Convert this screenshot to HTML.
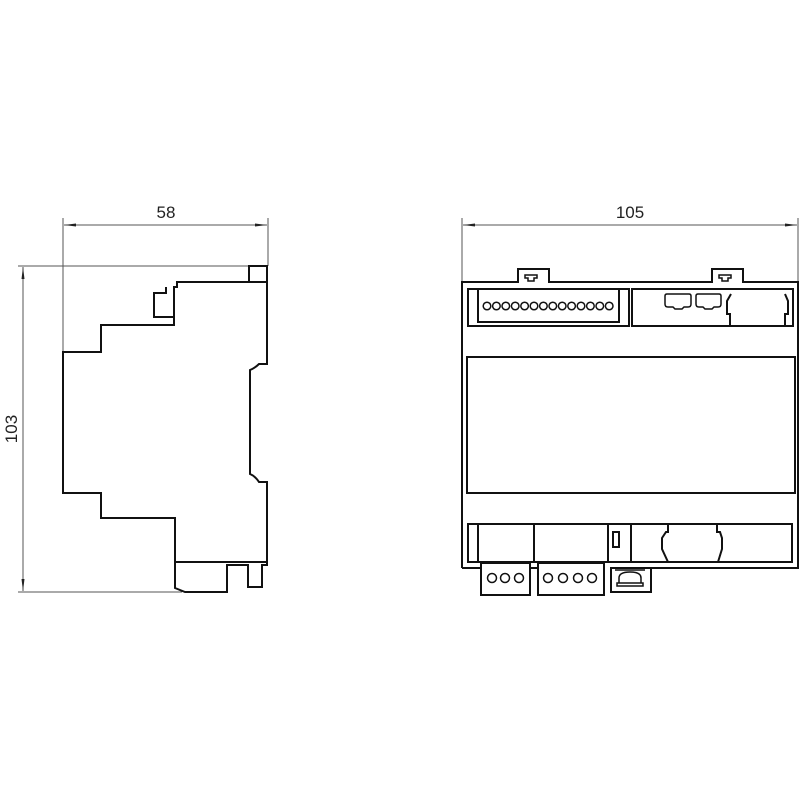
<!DOCTYPE html>
<html><head><meta charset="utf-8"><style>html,body{margin:0;padding:0;background:#fff}svg{display:block}</style></head>
<body>
<svg width="800" height="800" viewBox="0 0 800 800" xmlns="http://www.w3.org/2000/svg">
<defs>
<marker id="a" viewBox="0 0 12 6" refX="12" refY="3" markerWidth="12" markerHeight="6" markerUnits="userSpaceOnUse" orient="auto-start-reverse"><path d="M12,3 L0,1.5 L0,4.5 Z" fill="#222"/></marker>
</defs>
<g stroke="#555" stroke-width="1" fill="none">
<line x1="63" y1="218" x2="63" y2="352"/>
<line x1="268" y1="218" x2="268" y2="266"/>
<line x1="64" y1="225" x2="267" y2="225" marker-start="url(#a)" marker-end="url(#a)"/>
<line x1="18" y1="266" x2="266" y2="266"/>
<line x1="18" y1="592" x2="182" y2="592"/>
<line x1="23" y1="267" x2="23" y2="591" marker-start="url(#a)" marker-end="url(#a)"/>
<line x1="462" y1="218" x2="462" y2="282"/>
<line x1="798" y1="218" x2="798" y2="282"/>
<line x1="463" y1="225" x2="797" y2="225" marker-start="url(#a)" marker-end="url(#a)"/>
</g>
<g font-family="Liberation Sans, sans-serif" font-size="17" fill="#222" text-anchor="middle">
<text x="166" y="218">58</text>
<text x="630" y="218">105</text>
<text transform="translate(17,429) rotate(-90)">103</text>
</g>
<g stroke="#111" stroke-width="2" fill="none" stroke-linejoin="miter">
<rect x="249" y="266" width="18" height="16"/>
<path d="M63,352 H101 V325 H174 V287 H177 V282 H267 V364 H259 Q255,368 250,370 V474 Q255,476 259,482 H267 V565 H262 V587 H248 V565 H227 V592 H185 L175,588 V518 H101 V493 H63 Z"/>
<path d="M173,317 H154 V293 H166 V287"/>
<line x1="175" y1="562" x2="267" y2="562"/>
<path d="M462,568 V282 H518 V269 H549 V282 H712 V269 H743 V282 H798 V568 H611"/>
<path d="M462,568 H481"/>
<path d="M525,275 H537 V278 H534 V281 H528 V278 H525 Z" stroke-width="1.5"/>
<path d="M719,275 H731 V278 H728 V281 H722 V278 H719 Z" stroke-width="1.5"/>
<rect x="468" y="289" width="161" height="37"/>
<rect x="478" y="289" width="141" height="33"/>
<rect x="632" y="289" width="161" height="37"/>
<path d="M665,296 Q665,294 667,294 H689 Q691,294 691,296 V304 Q691,307 688,307 H684 L682,309 H675 L673,307 H668 Q665,307 665,304 Z" stroke-width="1.5"/>
<path d="M696,296 Q696,294 698,294 H719 Q721,294 721,296 V304 Q721,307 718,307 H714 L712,309 H705 L703,307 H699 Q696,307 696,304 Z" stroke-width="1.5"/>
<path d="M731,294 L727,301 V314 H730 V326"/>
<path d="M785,294 L788,301 V314 H785 V326"/>
<rect x="467" y="357" width="328" height="136"/>
<rect x="468" y="524" width="324" height="38"/>
<line x1="478" y1="524" x2="478" y2="562"/>
<line x1="534" y1="524" x2="534" y2="562"/>
<line x1="608" y1="524" x2="608" y2="562"/>
<line x1="631" y1="524" x2="631" y2="562"/>
<rect x="613" y="532" width="6" height="15"/>
<path d="M668,524 V532 H666 L662,538 V549 L668,562"/>
<path d="M717,524 V532 H720 L722,538 V549 L718,562"/>
<rect x="481" y="563" width="49" height="32"/>
<rect x="538" y="563" width="66" height="32"/>
<rect x="530" y="562" width="8" height="6"/>
<path d="M611,567 V592 H651 V567"/>
<path d="M615,570 H645 M619,583 V578 Q619,572 630,572 Q641,572 641,578 V583 M617,583 H643 V586 H617 Z" stroke-width="1.5"/>
</g>
<g stroke="#111" stroke-width="1.5" fill="none">
<circle cx="492" cy="578" r="4.5"/><circle cx="505" cy="578" r="4.5"/><circle cx="519" cy="578" r="4.5"/>
<circle cx="548" cy="578" r="4.5"/><circle cx="563" cy="578" r="4.5"/><circle cx="578" cy="578" r="4.5"/><circle cx="592" cy="578" r="4.5"/>
<circle cx="487" cy="306" r="3.8"/><circle cx="496.4" cy="306" r="3.8"/><circle cx="505.8" cy="306" r="3.8"/><circle cx="515.2" cy="306" r="3.8"/><circle cx="524.6" cy="306" r="3.8"/><circle cx="534" cy="306" r="3.8"/><circle cx="543.4" cy="306" r="3.8"/><circle cx="552.8" cy="306" r="3.8"/><circle cx="562.2" cy="306" r="3.8"/><circle cx="571.6" cy="306" r="3.8"/><circle cx="581" cy="306" r="3.8"/><circle cx="590.4" cy="306" r="3.8"/><circle cx="599.8" cy="306" r="3.8"/><circle cx="609.2" cy="306" r="3.8"/>
</g>
</svg>
</body></html>
